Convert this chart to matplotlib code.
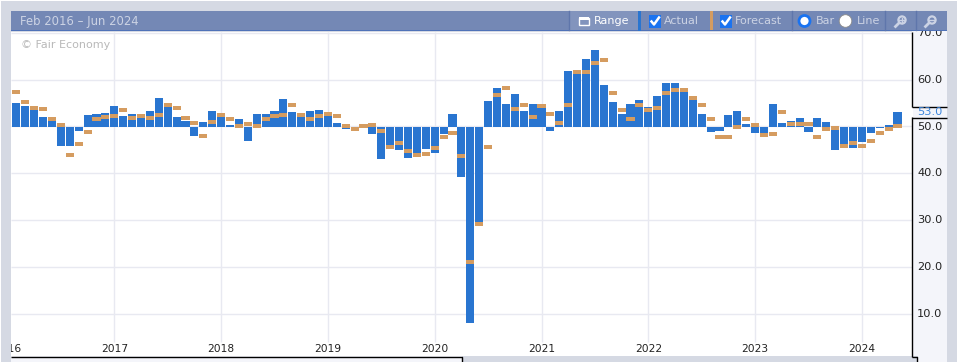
import numpy as np
import pandas as pd
import matplotlib
matplotlib.use("Agg")
import matplotlib.pyplot as plt
from matplotlib.patches import Rectangle, Circle

# ── Data ───────────────────────────────────────────────────────────────────────
months = pd.date_range("2016-02-01", "2024-05-01", freq="MS")

actual = [
    55.0, 54.4, 54.0, 52.1, 51.6, 45.9, 45.9, 49.1, 52.5, 52.7, 52.9,
    54.4, 52.3, 52.7, 52.3, 53.3, 56.1, 54.6, 52.1, 51.2, 48.0, 51.0, 53.3,
    52.1, 50.4, 51.6, 46.9, 52.7, 52.7, 53.3, 55.9, 53.1, 52.5, 53.3, 53.6,
    52.3, 50.8, 49.5, 49.6, 50.2, 48.4, 43.1, 46.0, 45.0, 43.3, 44.2, 45.2,
    44.4, 48.4, 52.7, 39.3, 8.2, 29.7, 55.5, 58.2, 54.8, 57.0, 53.3, 54.8,
    54.4, 49.1, 53.3, 61.9, 61.5, 64.4, 66.3, 58.9, 55.3, 52.7, 54.8, 55.7,
    54.2, 56.5, 59.3, 59.3, 57.8, 55.7, 52.7, 48.9, 49.1, 52.5, 53.3, 50.6,
    48.6, 48.6, 54.8, 50.8, 51.2, 51.8, 48.9, 51.8, 51.0, 45.0, 45.9, 45.5,
    46.7, 48.6, 49.7, 50.4, 53.0,
]
forecast = [
    57.4, 55.3, 54.0, 53.8, 51.6, 50.4, 44.0, 46.3, 48.9, 51.6, 52.1,
    52.3, 53.6, 51.8, 52.3, 51.8, 52.5, 54.6, 54.0, 51.8, 50.8, 48.0, 51.0,
    52.5, 51.6, 50.1, 50.6, 50.1, 51.6, 52.3, 52.5, 54.6, 52.5, 51.6, 52.3,
    52.7, 52.3, 50.1, 49.5, 50.1, 50.4, 49.1, 45.7, 46.5, 44.8, 44.0, 44.2,
    45.5, 47.8, 48.6, 43.7, 21.1, 29.3, 45.7, 56.8, 58.2, 53.8, 54.6, 52.1,
    54.4, 52.7, 50.8, 54.6, 61.7, 61.7, 63.6, 64.2, 57.2, 53.6, 51.6, 54.6,
    53.6, 54.0, 57.2, 57.8, 57.8, 56.1, 54.6, 51.6, 47.8, 47.8, 49.9, 51.6,
    50.4, 48.2, 48.4, 53.1, 50.6, 50.6, 50.6, 47.8, 49.5, 49.7, 45.9, 46.5,
    45.9, 46.9, 48.6, 49.5, 50.1,
]

tick_years = [2016, 2017, 2018, 2019, 2020, 2021, 2022, 2023, 2024]
y_ticks = [10, 20, 30, 40, 50, 60, 70]
last_value = "53.0"
date_range_label = "Feb 2016 – Jun 2024"
watermark = "© Fair Economy"

# ── Colours ────────────────────────────────────────────────────────────────────
BG = "#d5d9e3"
PANEL = "#f4f5fa"
GRID = "#e8e9f1"
BAR = "#2975d0"
FC = "#d59c60"
TOOL = "#7488b5"
TOOL_ON = "#8294bd"
TOOL_TXT = "#ccd3e4"
W, H = 958, 362

plt.rcParams["font.family"] = "DejaVu Sans"
fig = plt.figure(figsize=(W / 100, H / 100), dpi=100, facecolor="white")


def pixel_axes(z):
    a = fig.add_axes([0, 0, 1, 1], zorder=z)
    a.set_xlim(0, W)
    a.set_ylim(H, 0)
    a.axis("off")
    a.patch.set_alpha(0)
    return a


# ── Page background ────────────────────────────────────────────────────────────
back = pixel_axes(0)
back.add_patch(Rectangle((1, 1), W - 2, H - 1, color=BG, lw=0))
back.add_patch(Rectangle((912, 30), 35, H - 30, color=PANEL, lw=0))
back.add_patch(Rectangle((11, 356), 451, 6, color=PANEL, lw=0))
back.add_patch(Rectangle((912, 356), 6, 6, color=BG, lw=0))

# ── Main chart ─────────────────────────────────────────────────────────────────
PX_UNIT = 4.69
Y50 = 126.5
PX_MONTH = 8.9
X0 = 16.4
L, R, T, B = 11, 912.5, 32, 356


def px_to_val(p):
    return 50 - (p - Y50) / PX_UNIT


ax = fig.add_axes([L / W, 1 - B / H, (R - L) / W, (B - T) / H], zorder=1)
ax.set_xlim((L - X0) / PX_MONTH, (R - X0) / PX_MONTH)
ax.set_ylim(px_to_val(B), px_to_val(T))
ax.set_facecolor("white")
for s in ax.spines.values():
    s.set_visible(False)
ax.set_xticks([])
ax.set_yticks([])

idx = np.arange(len(months))
tick_pos = [(pd.Timestamp(f"{y}-01-01").to_period("M") - months[0].to_period("M")).n for y in tick_years]

ax.hlines(y_ticks, *ax.get_xlim(), color=GRID, lw=1, zorder=1)
ax.vlines(tick_pos, px_to_val(342), px_to_val(T), color=GRID, lw=1, zorder=1)

act = np.array(actual)
fc = np.array(forecast)
ax.bar(idx, act - 50, bottom=50, width=0.9, color=BAR, lw=0, zorder=2)
mark_h = 4 / PX_UNIT
ax.bar(idx, [mark_h] * len(fc), bottom=fc - mark_h / 2, width=0.9, color=FC, lw=0, zorder=3)

ax.text(0.011, 1 - 12.5 / (B - T), watermark, transform=ax.transAxes, color="#b9b9b9",
        fontsize=8, ha="left", va="center", zorder=4)

for p, y in zip(tick_pos, tick_years):
    ax.text(p, px_to_val(349), str(y), color="#222222", fontsize=7.7, ha="center", va="center",
            clip_on=True, zorder=4)

# y labels sit outside the axes, toolbar overlay cuts off the top one
for v in y_ticks:
    ax.text(1.005, v, f"{v:.1f}", transform=ax.get_yaxis_transform(), color="#222222",
            fontsize=8.2, ha="left", va="center", clip_on=False, zorder=4)

# ── Frame and last-value box ───────────────────────────────────────────────────
top = pixel_axes(2)
top.add_patch(Rectangle((913, 107), 34, 10, color=PANEL, lw=0))
top.text(917, 112, last_value, color="#3d86dc", fontsize=8.2, ha="left", va="center")
line = dict(color="black", lw=1, solid_capstyle="butt")
top.plot([912.5, 912.5], [32, 106.5], **line)
top.plot([912.5, 912.5], [117, 356.5], **line)
top.plot([912.5, 947], [106.5, 106.5], **line)
top.plot([912.5, 947], [117.5, 117.5], **line)
top.plot([11, 462.5, 462.5], [356.5, 356.5, H], **line)
top.plot([912, 917.5, 917.5], [356.5, 356.5, H], **line)
top.add_patch(Rectangle((463, 356), 449, 6, color=BG, lw=0))

# ── Toolbar ────────────────────────────────────────────────────────────────────
top.add_patch(Rectangle((11, 11), 936, 19, color=TOOL, lw=0))
top.add_patch(Rectangle((11, 30), 936, 1, color="#4f72b8", lw=0))
top.add_patch(Rectangle((570, 11), 68, 19, color=TOOL_ON, lw=0))
top.add_patch(Rectangle((638, 11), 3, 20, color=BAR, lw=0))
top.add_patch(Rectangle((710, 11), 3, 19, color=FC, lw=0))
for sx in [569, 792, 885, 916]:
    top.plot([sx + 0.5, sx + 0.5], [11, 30], color="#5f76ab", lw=1)

txt = dict(color=TOOL_TXT, fontsize=8, ha="left", va="center")
top.text(20, 21, date_range_label, color=TOOL_TXT, fontsize=8.35, ha="left", va="center")
top.text(594, 21, "Range", color="white", fontsize=8, ha="left", va="center")
top.text(664, 21, "Actual", **txt)
top.text(735, 21, "Forecast", **txt)
top.text(816, 21, "Bar", **txt)
top.text(857, 21, "Line", **txt)

# calendar icon
top.add_patch(Rectangle((579, 18), 10, 7, fc="none", ec="white", lw=1))
top.add_patch(Rectangle((579, 17), 10, 3, color="white", lw=0))

# checkboxes
for bx in [649, 720]:
    top.add_patch(Rectangle((bx, 15), 12.5, 12.5, color="#1a73f0", lw=0))
    top.plot([bx + 2.5, bx + 5, bx + 10], [21.5, 24.5, 17.5], color="white", lw=1.8)

# radio buttons
top.add_patch(Circle((804.5, 21), 5.5, fc="white", ec="#1a73f0", lw=2))
top.add_patch(Circle((845.5, 21), 6.3, fc="white", ec="#8a8a8a", lw=0.6))

# zoom icons
for cx in [901, 931]:
    top.add_patch(Circle((cx + 1, 20), 3.6, fc="none", ec="#ccd3e4", lw=1.6))
    top.plot([cx - 2, cx - 5.5], [23, 26.5], color="#ccd3e4", lw=2)
top.plot([899.5, 904.5], [20, 20], color="#ccd3e4", lw=1)
top.plot([902, 902], [17.5, 22.5], color="#ccd3e4", lw=1)
top.plot([929.5, 934.5], [20, 20], color="#ccd3e4", lw=1)

fig.savefig("out.png", dpi=100)
